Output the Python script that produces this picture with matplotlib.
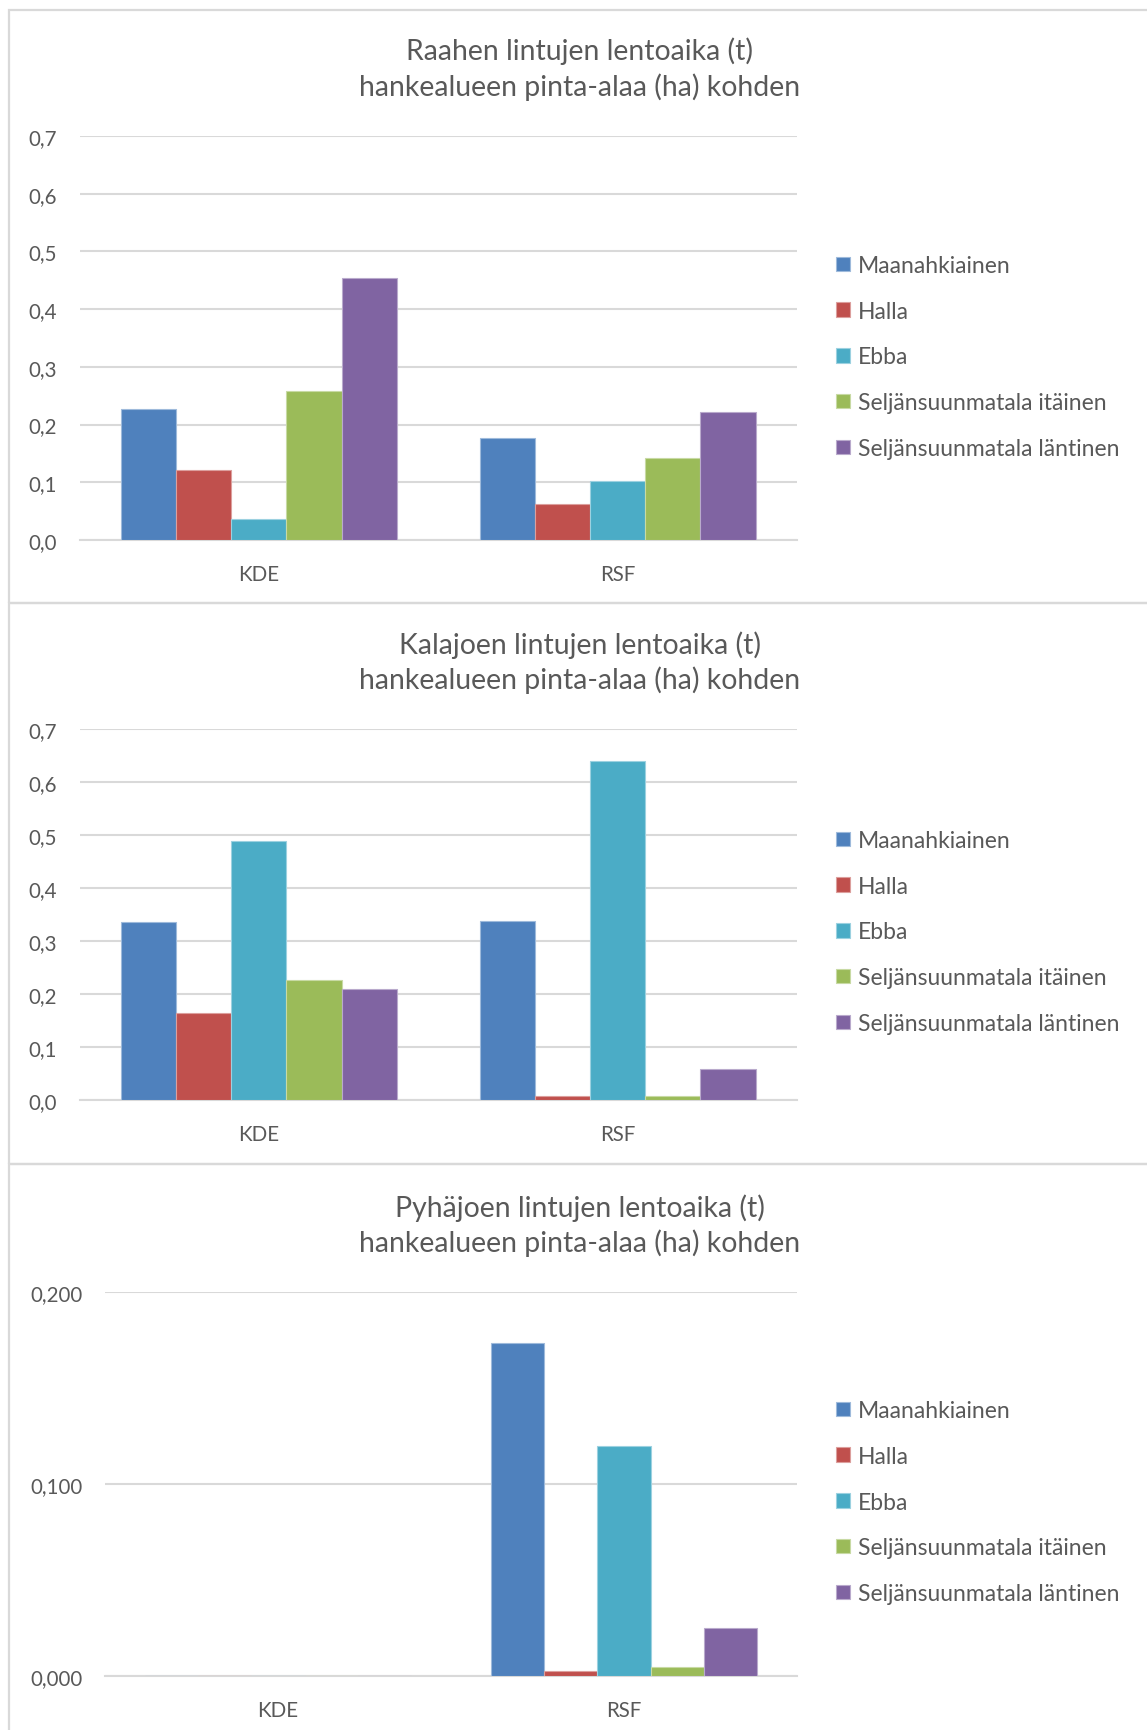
import matplotlib
matplotlib.use("Agg")
import matplotlib.pyplot as plt
from matplotlib.patches import Rectangle
from matplotlib.ticker import FuncFormatter, MultipleLocator
import numpy as np

plt.rcParams['font.family'] = ['Lato', 'DejaVu Sans']

categories = ["KDE", "RSF"]
series_names = ["Maanahkiainen", "Halla", "Ebba", "Seljänsuunmatala itäinen", "Seljänsuunmatala läntinen"]
colors = ["#4F81BD", "#C0504D", "#4BACC6", "#9BBB59", "#8064A2"]

titles = [
    "Raahen lintujen lentoaika (t)\nhankealueen pinta-alaa (ha) kohden",
    "Kalajoen lintujen lentoaika (t)\nhankealueen pinta-alaa (ha) kohden",
    "Pyhäjoen lintujen lentoaika (t)\nhankealueen pinta-alaa (ha) kohden",
]

# values per series: [KDE, RSF]
raahe_maanahkiainen = [0.227, 0.177]
raahe_halla = [0.121, 0.062]
raahe_ebba = [0.036, 0.103]
raahe_itainen = [0.259, 0.142]
raahe_lantinen = [0.454, 0.221]

kalajoki_maanahkiainen = [0.335, 0.338]
kalajoki_halla = [0.165, 0.008]
kalajoki_ebba = [0.489, 0.640]
kalajoki_itainen = [0.226, 0.0075]
kalajoki_lantinen = [0.210, 0.058]

pyhajoki_maanahkiainen = [0.0, 0.1736]
pyhajoki_halla = [0.0, 0.0028]
pyhajoki_ebba = [0.0, 0.1197]
pyhajoki_itainen = [0.0, 0.0046]
pyhajoki_lantinen = [0.0, 0.0249]

panels_data = [
    [raahe_maanahkiainen, raahe_halla, raahe_ebba, raahe_itainen, raahe_lantinen],
    [kalajoki_maanahkiainen, kalajoki_halla, kalajoki_ebba, kalajoki_itainen, kalajoki_lantinen],
    [pyhajoki_maanahkiainen, pyhajoki_halla, pyhajoki_ebba, pyhajoki_itainen, pyhajoki_lantinen],
]
y_max = [0.7, 0.7, 0.2]
y_step = [0.1, 0.1, 0.1]
y_decimals = [1, 1, 3]

W, H = 1147, 1731
fig = plt.figure(figsize=(W / 100, H / 100), dpi=100)
fig.patch.set_facecolor("white")

TXT = "#595959"
GRID = "#D9D9D9"

def lighten(c, f=0.45):
    rgb = np.array(matplotlib.colors.to_rgb(c))
    return tuple(rgb + (1 - rgb) * f)

# panel frames (pixel coords: top, bottom)
frames = [(11, 604), (604, 1165), (1165, 1745)]
for top, bot in frames:
    fig.patches.append(Rectangle((9 / W, 1 - bot / H), (W + 20 - 9) / W, (bot - top) / H,
                                 transform=fig.transFigure, fill=False,
                                 edgecolor=GRID, linewidth=1.6, zorder=0))

# axes positions in pixels: left, right, top(ymax), bottom(0)
axes_px = [(79.5, 797, 137, 541), (79.5, 797, 730, 1101), (105, 797, 1293, 1677)]
title_px = [(580, 51, 87), (580, 645, 680), (580, 1208, 1243)]
legend_top = [256, 831, 1401]

n = len(series_names)
width = 1 / 6.5
x = np.arange(len(categories))

for i in range(3):
    l, r, t, b = axes_px[i]
    ax = fig.add_axes([l / W, 1 - b / H, (r - l) / W, (b - t) / H])
    handles = []
    for j in range(n):
        offs = (j - (n - 1) / 2) * width
        h = ax.bar(x + offs, panels_data[i][j], width=width, color=colors[j],
                   edgecolor=lighten(colors[j]), linewidth=0.8, label=series_names[j], zorder=3)
        handles.append(h)
    ax.set_xlim(-0.5, 1.5)
    ax.set_ylim(0, y_max[i])
    ax.yaxis.set_major_locator(MultipleLocator(y_step[i]))
    d = y_decimals[i]
    ax.yaxis.set_major_formatter(FuncFormatter(lambda v, p, d=d: f"{v:.{d}f}".replace(".", ",")))
    ax.set_xticks(x)
    ax.set_xticklabels(categories)
    ax.grid(axis="y", color=GRID, linewidth=1.5, zorder=0)
    for s in ["top", "right", "left"]:
        ax.spines[s].set_visible(False)
    ax.spines["bottom"].set_color(GRID)
    ax.spines["bottom"].set_linewidth(1.5)
    ax.tick_params(axis="both", length=0, colors=TXT, labelsize=14.8)
    ax.tick_params(axis="y", pad=16)
    ax.tick_params(axis="x", pad=17)
    ax.set_facecolor("none")

    tx, ty1, ty2 = title_px[i]
    lines = titles[i].split("\n")
    fig.text(tx / W, 1 - ty1 / H, lines[0], ha="center", va="center", fontsize=20.4, color=TXT)
    fig.text(tx / W, 1 - ty2 / H, lines[1], ha="center", va="center", fontsize=20.4, color=TXT)

    fig.legend(handles=handles, labels=series_names, loc="upper left",
               bbox_to_anchor=(836 / W, 1 - legend_top[i] / H), bbox_transform=fig.transFigure,
               frameon=False, fontsize=16.5, handlelength=0.6, handleheight=0.6,
               handletextpad=0.35, labelspacing=1.08, labelcolor=TXT, borderpad=0, borderaxespad=0)

fig.savefig("out.png", dpi=100, facecolor="white")
